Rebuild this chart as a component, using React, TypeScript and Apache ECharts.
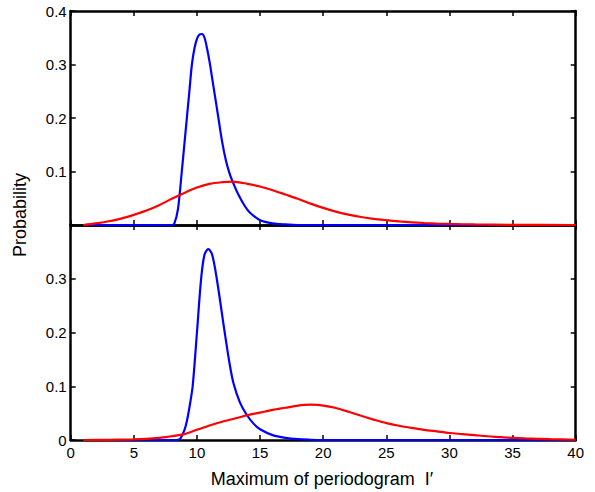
import React, { useEffect, useRef } from "react";
import * as echarts from "echarts";

// Top panel
const topBlueX = [1, 4, 7, 8.0, 8.2, 8.5, 8.8, 9.0, 9.2, 9.4, 9.6, 9.8, 10.0, 10.2, 10.4, 10.6, 10.8, 11.0, 11.3, 11.7, 12.0, 12.3, 12.6, 12.9, 13.3, 13.8, 14.2, 15, 16, 17, 18, 20, 25, 30, 35, 40];
const topBlueY = [0, 0, 0, 0, 0.002, 0.03, 0.1, 0.15, 0.2, 0.25, 0.3, 0.33, 0.348, 0.356, 0.357, 0.35, 0.33, 0.305, 0.26, 0.2, 0.155, 0.12, 0.095, 0.077, 0.056, 0.035, 0.023, 0.009, 0.003, 0.001, 0, 0, 0, 0, 0, 0];
const topRedX = [1, 2, 3, 4, 5, 6, 7, 8, 9, 10, 11, 12, 12.8, 14, 15, 16, 17, 18, 19, 20, 21, 22, 23, 24, 25, 26, 27, 28, 29, 30, 32, 35, 40];
const topRedY = [0, 0.003, 0.007, 0.012, 0.019, 0.027, 0.037, 0.049, 0.06, 0.07, 0.077, 0.08, 0.081, 0.077, 0.072, 0.065, 0.057, 0.049, 0.04, 0.032, 0.025, 0.0195, 0.015, 0.0115, 0.009, 0.0068, 0.005, 0.0037, 0.0027, 0.002, 0.001, 0.0003, 0];

// Bottom panel
const botBlueX = [1, 4, 7, 8.3, 8.66, 9.0, 9.2, 9.4, 9.66, 10.0, 10.33, 10.6, 10.9, 11.2, 11.57, 12.2, 12.6, 12.9, 13.4, 13.94, 14.5, 15, 16, 17, 18, 19, 20, 25, 30, 35, 40];
const botBlueY = [0, 0, 0, 0, 0.002, 0.018, 0.035, 0.06, 0.1, 0.2, 0.3, 0.345, 0.355, 0.345, 0.3, 0.2, 0.14, 0.105, 0.07, 0.047, 0.03, 0.02, 0.009, 0.004, 0.0015, 0.0005, 0, 0, 0, 0, 0];
const botRedX = [1, 3, 5, 6, 7, 8, 9, 10, 11, 12, 13, 14, 15, 16, 17, 18, 18.5, 19, 19.5, 20, 21, 22, 23, 24, 25, 26, 27, 28, 29, 30, 31, 32, 33, 34, 35, 36, 38, 40];
const botRedY = [0, 0.0003, 0.001, 0.002, 0.004, 0.007, 0.011, 0.019, 0.027, 0.034, 0.04, 0.046, 0.051, 0.056, 0.06, 0.064, 0.0655, 0.066, 0.0655, 0.064, 0.0595, 0.0525, 0.045, 0.038, 0.0315, 0.0265, 0.0225, 0.019, 0.016, 0.013, 0.011, 0.009, 0.007, 0.0055, 0.004, 0.003, 0.0015, 0.0005];

const xTicks = { min: 0, max: 40, interval: 5 };
const yTicks = { min: 0, max: 0.4, interval: 0.1 };

const pairs = (xs: number[], ys: number[]) => xs.map((x, i) => [x, ys[i]]);

const FONT = "Liberation Sans, Arial, Helvetica, sans-serif";

export default function App() {
  const ref = useRef<HTMLDivElement>(null);
  useEffect(() => {
    if (!ref.current) return;
    const chart = echarts.init(ref.current, undefined, { renderer: "svg" });
    const axLine = { show: true, onZero: false, lineStyle: { color: "#000", width: 2.5 } };
    const tick = { show: true, inside: true, length: 5, lineStyle: { color: "#000", width: 1.5 } };
    const lbl = { color: "#000", fontSize: 15, fontFamily: FONT };
    const mkX = (grid: number, pos: string, showLabel: boolean) => ({
      type: "value", gridIndex: grid, position: pos, ...xTicks,
      axisLine: axLine, axisTick: tick, splitLine: { show: false },
      axisLabel: { show: showLabel, margin: 5, ...lbl },
    });
    const mkY = (grid: number, pos: string, showLabel: boolean, fmt?: (v: number) => string) => ({
      type: "value", gridIndex: grid, position: pos, ...yTicks,
      axisLine: axLine, axisTick: tick, splitLine: { show: false },
      axisLabel: { show: showLabel, margin: 4, formatter: fmt, ...lbl },
    });
    const line = (xi: number, yi: number, data: number[][], color: string) => ({
      type: "line", xAxisIndex: xi, yAxisIndex: yi, data, showSymbol: false, symbol: "none",
      smooth: 0.3, lineStyle: { color, width: 2.2 }, z: 3,
    });
    chart.setOption({
      animation: false,
      backgroundColor: "#fff",
      grid: [
        { left: 70.7, top: 11, width: 505, height: 214 },
        { left: 70.7, top: 225, width: 505, height: 215 },
      ],
      xAxis: [mkX(0, "bottom", false), mkX(0, "top", false), mkX(1, "bottom", true), mkX(1, "top", false)],
      yAxis: [
        mkY(0, "left", true, (v: number) => (v === 0 ? "" : v.toFixed(1))),
        mkY(0, "right", false),
        mkY(1, "left", true, (v: number) => (v >= 0.39 ? "" : v === 0 ? "0" : v.toFixed(1))),
        mkY(1, "right", false),
      ],
      series: [
        line(0, 0, pairs(topBlueX, topBlueY), "#0000ff"),
        line(0, 0, pairs(topRedX, topRedY), "#ff0000"),
        line(2, 2, pairs(botBlueX, botBlueY), "#0000ff"),
        line(2, 2, pairs(botRedX, botRedY), "#ff0000"),
      ],
      graphic: [
        {
          type: "text", x: 322, y: 479,
          style: { text: "Maximum of periodogram  I′", fill: "#000", fontSize: 18, fontFamily: FONT, textAlign: "center", textVerticalAlign: "middle" },
        },
        {
          type: "text", x: 20, y: 215, rotation: Math.PI / 2,
          style: { text: "Probability", fill: "#000", fontSize: 18, fontFamily: FONT, textAlign: "center", textVerticalAlign: "middle" },
        },
      ],
    });
    return () => chart.dispose();
  }, []);
  return <div ref={ref} style={{ position: "absolute", left: 0, top: 0, width: 595, height: 492 }} />;
}
